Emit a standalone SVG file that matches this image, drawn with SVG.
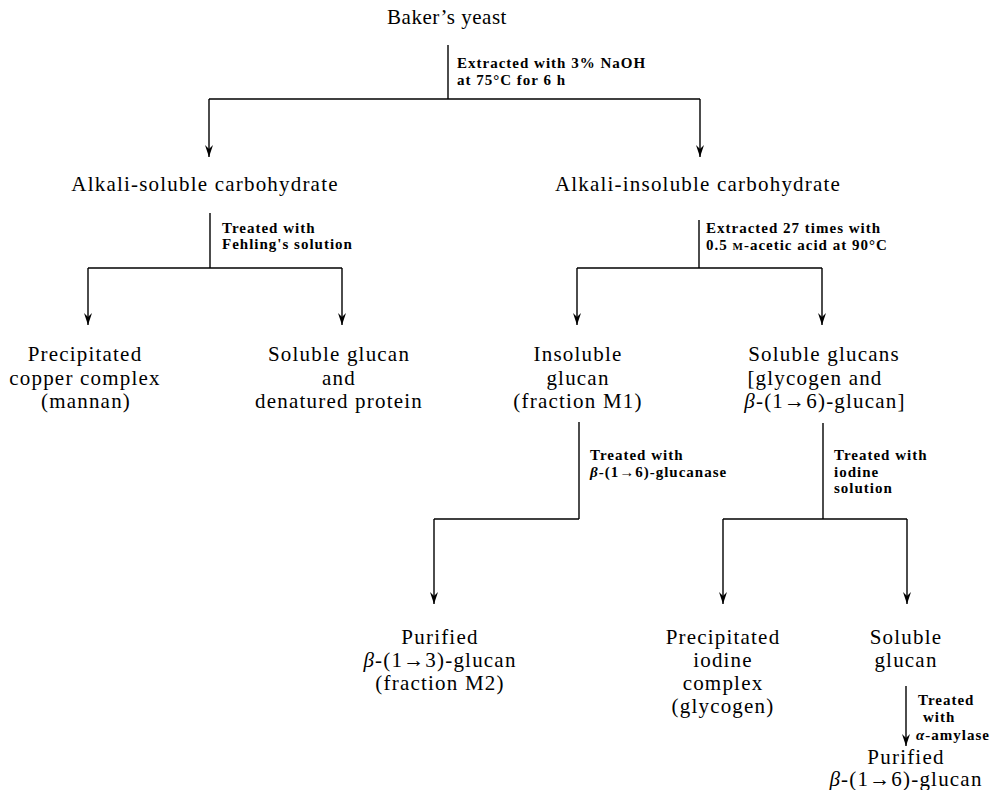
<svg xmlns="http://www.w3.org/2000/svg" width="1000" height="790" viewBox="0 0 1000 790">
<style>
.n{font-family:"Liberation Serif","Times New Roman",serif;font-size:21px;letter-spacing:1.2px;fill:#000;text-anchor:middle}
.s{font-family:"Liberation Serif","Times New Roman",serif;font-size:15px;font-weight:bold;letter-spacing:1px;fill:#000}
.c line{stroke:#000;stroke-width:1.4;fill:none}
</style>
<defs>
<marker id="ah" viewBox="0 0 12 10" refX="12" refY="5" markerWidth="12" markerHeight="10" markerUnits="userSpaceOnUse" orient="auto">
<path d="M0,1 L12,5 L0,9 L4,5 Z" fill="#000"/>
</marker>
</defs>
<rect width="1000" height="790" fill="#fff"/>
<g class="c" id="connectors">
<line x1="448" y1="45" x2="448" y2="99"/>
<line x1="209" y1="99" x2="700" y2="99"/>
<line x1="209" y1="99" x2="209" y2="157" marker-end="url(#ah)"/>
<line x1="700" y1="99" x2="700" y2="157" marker-end="url(#ah)"/>
<line x1="210" y1="213" x2="210" y2="268"/>
<line x1="88" y1="268" x2="342" y2="268"/>
<line x1="88" y1="268" x2="88" y2="325" marker-end="url(#ah)"/>
<line x1="342" y1="268" x2="342" y2="325" marker-end="url(#ah)"/>
<line x1="699" y1="220" x2="699" y2="268"/>
<line x1="577" y1="268" x2="822" y2="268"/>
<line x1="577" y1="268" x2="577" y2="325" marker-end="url(#ah)"/>
<line x1="822" y1="268" x2="822" y2="325" marker-end="url(#ah)"/>
<line x1="579" y1="422" x2="579" y2="519"/>
<line x1="434" y1="519" x2="579" y2="519"/>
<line x1="434" y1="519" x2="434" y2="604" marker-end="url(#ah)"/>
<line x1="823" y1="423" x2="823" y2="519"/>
<line x1="723" y1="519" x2="907" y2="519"/>
<line x1="723" y1="519" x2="723" y2="604" marker-end="url(#ah)"/>
<line x1="907" y1="519" x2="907" y2="604" marker-end="url(#ah)"/>
<line x1="906" y1="686" x2="906" y2="746" marker-end="url(#ah)"/>
</g>
<g id="labels">
<text class="s" x="457" y="68">Extracted with 3% NaOH</text>
<text class="s" x="457" y="85">at 75°C for 6 h</text>
<text class="s" x="222" y="233">Treated with</text>
<text class="s" x="222" y="249">Fehling's solution</text>
<text class="s" x="706" y="233">Extracted 27 times with</text>
<text class="s" x="706" y="250">0.5 <tspan font-size="11">M</tspan>-acetic acid at 90°C</text>
<text class="s" x="590" y="460">Treated with</text>
<text class="s" x="590" y="477"><tspan font-style="italic">β</tspan>-(1→6)-glucanase</text>
<text class="s" x="834" y="460">Treated with</text>
<text class="s" x="834" y="477">iodine</text>
<text class="s" x="834" y="493">solution</text>
<text class="s" x="918" y="705">Treated</text>
<text class="s" x="923" y="722">with</text>
<text class="s" x="916" y="740"><tspan font-style="italic">α</tspan>-amylase</text>
</g>
<g id="n-yeast"><text class="n" x="447" y="24" style="letter-spacing:0.5px">Baker’s yeast</text></g>
<g id="n-alksol"><text class="n" x="205" y="191">Alkali-soluble carbohydrate</text></g>
<g id="n-alkinsol"><text class="n" x="698" y="191">Alkali-insoluble carbohydrate</text></g>
<g id="n-mannan"><text class="n" x="85" y="361">Precipitated</text><text class="n" x="85" y="385">copper complex</text><text class="n" x="86" y="408">(mannan)</text></g>
<g id="n-solglucan"><text class="n" x="339" y="361">Soluble glucan</text><text class="n" x="339" y="385">and</text><text class="n" x="339" y="408">denatured protein</text></g>
<g id="n-m1"><text class="n" x="578" y="361">Insoluble</text><text class="n" x="578" y="385">glucan</text><text class="n" x="578" y="408">(fraction M1)</text></g>
<g id="n-solglucans"><text class="n" x="824" y="361">Soluble glucans</text><text class="n" x="815" y="385">[glycogen and</text><text class="n" x="825" y="408"><tspan font-style="italic">β</tspan>-(1→6)-glucan]</text></g>
<g id="n-m2"><text class="n" x="440" y="644">Purified</text><text class="n" x="440" y="667"><tspan font-style="italic">β</tspan>-(1→3)-glucan</text><text class="n" x="440" y="690">(fraction M2)</text></g>
<g id="n-glycogen"><text class="n" x="723" y="644">Precipitated</text><text class="n" x="723" y="667">iodine</text><text class="n" x="723" y="690">complex</text><text class="n" x="723" y="713">(glycogen)</text></g>
<g id="n-solglucan2"><text class="n" x="906" y="644">Soluble</text><text class="n" x="906" y="667">glucan</text></g>
<g id="n-b16"><text class="n" x="906" y="764">Purified</text><text class="n" x="906" y="786"><tspan font-style="italic">β</tspan>-(1→6)-glucan</text></g>
</svg>
